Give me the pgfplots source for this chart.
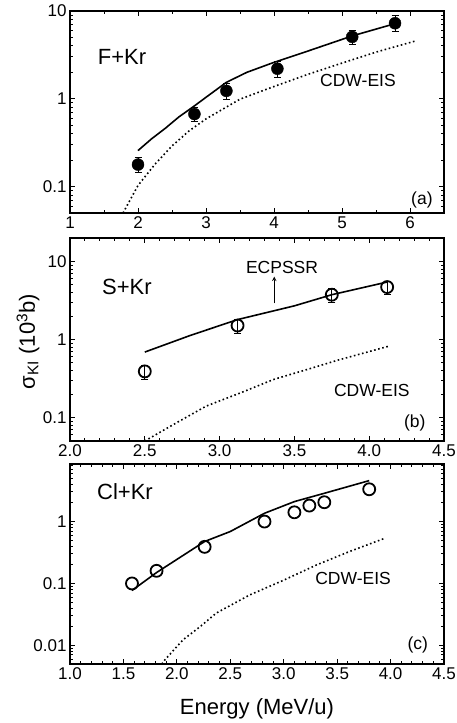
\documentclass[border=0pt]{standalone}
\usepackage{fontspec}
\setmainfont{Liberation Sans}
\usepackage{pgfplots}
\pgfplotsset{compat=1.18}
\begin{document}
\begin{tikzpicture}
\useasboundingbox (0,0) rectangle (456pt,723pt);
% ---------------- (a) F+Kr ----------------
\begin{axis}[scale only axis, width=374pt, height=202pt, ymode=log,
  at={(70pt,510pt)}, anchor=south west,
  tick align=inside, axis line style={line width=1.4pt},
  major tick length=5pt, minor tick length=3pt,
  tick style={line width=1pt, black},
  tick label style={font=\fontsize{17}{19}\selectfont},
  xmin=1, xmax=6.5, ymin=0.05, ymax=10,
  xtick={1,2,3,4,5,6}, xticklabels={1,2,3,4,5,6}, minor x tick num=1,
  ytick={0.1,1,10}, yticklabels={0.1,1,10},
  minor ytick={0.05,0.06,0.07,0.08,0.09,0.2,0.3,0.4,0.5,0.6,0.7,0.8,0.9,2,3,4,5,6,7,8,9},
]
\addplot[black, line width=1.6pt, no marks] coordinates {(2,0.257) (2.2,0.35) (2.4,0.46) (2.6,0.62) (2.83,0.83) (3,1.04) (3.3,1.54) (3.6,2.0) (4,2.6) (4.5,3.5) (5.15,5.2) (5.8,7.25)};
\addplot[black, line width=1.6pt, no marks, dash pattern=on 1.6pt off 2.6pt] coordinates {(1.78,0.05) (2,0.103) (2.25,0.18) (2.5,0.29) (2.75,0.43) (3,0.59) (3.5,0.99) (4,1.38) (4.5,1.9) (5,2.55) (5.5,3.4) (6.1,4.6)};
\addplot[only marks, mark=*, mark size=6pt, black,
  error bars/.cd, y dir=both, y explicit,
  error bar style={line width=1pt, black},
  error mark options={rotate=90, mark size=3.5pt, line width=1pt, black}] coordinates {
 (2,0.178) += (0,0.035) -= (0,0.035)
 (2.83,0.67) += (0,0.13) -= (0,0.12)
 (3.3,1.23) += (0,0.27) -= (0,0.26)
 (4.05,2.2) += (0,0.45) -= (0,0.45)
 (5.15,5.07) += (0,0.95) -= (0,0.95)
 (5.78,7.25) += (0,1.55) -= (0,1.45)
};
\node[font=\fontsize{22}{24}\selectfont] at (rel axis cs:0.139,0.772) {F+Kr};
\node[font=\fontsize{17.5}{20}\selectfont] at (rel axis cs:0.77,0.658) {CDW-EIS};
\node[font=\fontsize{17.5}{20}\selectfont] at (rel axis cs:0.941,0.064) {(a)};
\end{axis}
% ---------------- (b) S+Kr ----------------
\begin{axis}[scale only axis, width=374pt, height=203pt, ymode=log,
  at={(70pt,282pt)}, anchor=south west,
  tick align=inside, axis line style={line width=1.4pt},
  major tick length=5pt, minor tick length=3pt,
  tick style={line width=1pt, black},
  tick label style={font=\fontsize{17}{19}\selectfont},
  xmin=2, xmax=4.5, ymin=0.05, ymax=20,
  xtick={2,2.5,3,3.5,4,4.5}, xticklabels={2.0,2.5,3.0,3.5,4.0,4.5}, minor x tick num=4,
  ytick={0.1,1,10}, yticklabels={0.1,1,10},
  minor ytick={0.05,0.06,0.07,0.08,0.09,0.2,0.3,0.4,0.5,0.6,0.7,0.8,0.9,2,3,4,5,6,7,8,9,20},
  ylabel={σ\textsubscript{KI} (10\textsuperscript{3}b)},
  ylabel style={font=\fontsize{22}{24}\selectfont, at={(rel axis cs:-0.112,0.49)}, anchor=center},
]
\addplot[black, line width=1.6pt, no marks] coordinates {(2.5,0.69) (2.8,1.12) (3.12,1.8) (3.5,2.7) (3.75,3.75) (4.12,5.45)};
\addplot[black, line width=1.6pt, no marks, dash pattern=on 1.6pt off 2.6pt] coordinates {(2.50,0.05) (2.69,0.081) (2.91,0.14) (3.14,0.207) (3.36,0.307) (3.58,0.41) (3.80,0.55) (4.13,0.82)};
\addplot[only marks, mark=o, mark size=6pt, mark options={line width=1.8pt}, black,
  error bars/.cd, y dir=both, y explicit,
  error bar style={line width=1pt, black},
  error mark options={rotate=90, mark size=3.5pt, line width=1pt, black}] coordinates {
 (2.5,0.39) += (0,0.08) -= (0,0.08)
 (3.12,1.51) += (0,0.3) -= (0,0.3)
 (3.75,3.75) += (0,0.75) -= (0,0.75)
 (4.12,4.7) += (0,0.9) -= (0,0.9)
};
\draw[-stealth, line width=1pt] (axis cs:3.365,2.9) -- (axis cs:3.365,6.4);
\node[font=\fontsize{22}{24}\selectfont] at (rel axis cs:0.152,0.759) {S+Kr};
\node[font=\fontsize{17.5}{20}\selectfont] at (rel axis cs:0.567,0.857) {ECPSSR};
\node[font=\fontsize{17.5}{20}\selectfont] at (rel axis cs:0.807,0.251) {CDW-EIS};
\node[font=\fontsize{17.5}{20}\selectfont] at (rel axis cs:0.922,0.089) {(b)};
\end{axis}
% ---------------- (c) Cl+Kr ----------------
\begin{axis}[scale only axis, width=374pt, height=200pt, ymode=log,
  at={(70pt,59pt)}, anchor=south west,
  tick align=inside, axis line style={line width=1.4pt},
  major tick length=5pt, minor tick length=3pt,
  tick style={line width=1pt, black},
  tick label style={font=\fontsize{17}{19}\selectfont},
  xmin=1, xmax=4.5, ymin=0.005, ymax=8.5,
  xtick={1,1.5,2,2.5,3,3.5,4,4.5}, xticklabels={1.0,1.5,2.0,2.5,3.0,3.5,4.0,4.5}, minor x tick num=4,
  ytick={0.01,0.1,1}, yticklabels={0.01,0.1,1},
  minor ytick={0.005,0.006,0.007,0.008,0.009,0.02,0.03,0.04,0.05,0.06,0.07,0.08,0.09,0.2,0.3,0.4,0.5,0.6,0.7,0.8,0.9,2,3,4,5,6,7,8},
  xlabel={Energy (MeV/u)},
  xlabel style={font=\fontsize{22}{24}\selectfont, at={(rel axis cs:0.5,-0.225)}, anchor=center},
]
\addplot[black, line width=1.6pt, no marks] coordinates {(1.58,0.077) (1.81,0.15) (2.26,0.476) (2.5,0.69) (2.82,1.36) (3.1,2.1) (3.38,2.86) (3.8,4.58)};
\addplot[black, line width=1.6pt, no marks, dash pattern=on 1.6pt off 2.6pt] coordinates {(1.86,0.005) (1.89,0.0059) (2.06,0.0124) (2.22,0.0202) (2.37,0.0333) (2.68,0.065) (3.0,0.113) (3.31,0.2) (3.62,0.33) (3.95,0.54)};
\addplot[only marks, mark=o, mark size=6pt, mark options={line width=1.8pt}, black] coordinates {
 (1.58,0.1) (1.81,0.16) (2.26,0.39) (2.82,1.0) (3.1,1.41) (3.24,1.81) (3.38,2.05) (3.8,3.32)
};
\node[font=\fontsize{22}{24}\selectfont] at (rel axis cs:0.147,0.86) {Cl+Kr};
\node[font=\fontsize{17.5}{20}\selectfont] at (rel axis cs:0.757,0.43) {CDW-EIS};
\node[font=\fontsize{17.5}{20}\selectfont] at (rel axis cs:0.93,0.095) {(c)};
\end{axis}
\end{tikzpicture}
\end{document}
